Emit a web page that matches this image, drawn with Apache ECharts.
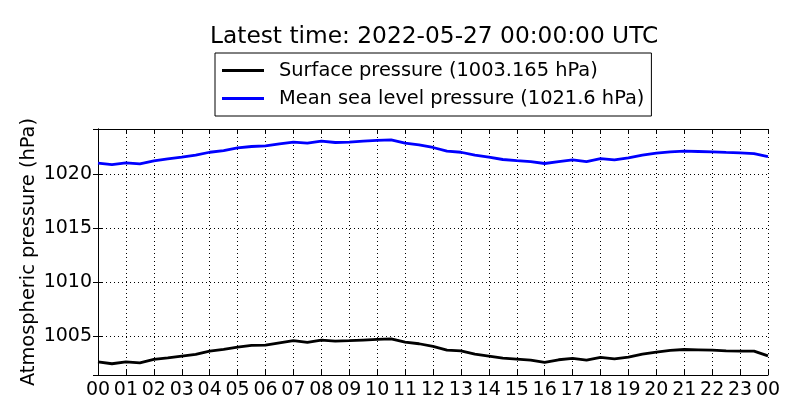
<!DOCTYPE html>
<html>
<head>
<meta charset="utf-8">
<script src="https://cdn.jsdelivr.net/npm/echarts@6/dist/echarts.min.js"></script>
<style>
  html, body { margin: 0; padding: 0; background: #fff; }
  #main { width: 800px; height: 420px; }
</style>
</head>
<body>
<div id="main"></div>
<script>
// hours since 2022-05-26 00:00 UTC, every half hour
var hours = [0, 0.5, 1, 1.5, 2, 2.5, 3, 3.5, 4, 4.5, 5, 5.5, 6, 6.5, 7, 7.5, 8, 8.5, 9, 9.5, 10, 10.5, 11, 11.5,
  12, 12.5, 13, 13.5, 14, 14.5, 15, 15.5, 16, 16.5, 17, 17.5, 18, 18.5, 19, 19.5, 20, 20.5, 21, 21.5, 22, 22.5, 23, 23.5, 24];

var surfacePressure = [1002.62, 1002.44, 1002.62, 1002.53, 1002.84, 1002.99, 1003.15, 1003.30, 1003.61, 1003.76,
  1003.98, 1004.14, 1004.17, 1004.38, 1004.57, 1004.41, 1004.63, 1004.54, 1004.57, 1004.63, 1004.69, 1004.75,
  1004.44, 1004.29, 1004.04, 1003.70, 1003.64, 1003.33, 1003.15, 1002.96, 1002.87, 1002.78, 1002.56, 1002.81,
  1002.93, 1002.78, 1003.03, 1002.90, 1003.06, 1003.33, 1003.52, 1003.67, 1003.76, 1003.73, 1003.70, 1003.64,
  1003.61, 1003.61, 1003.165];

var seaLevelPressure = [1020.99, 1020.86, 1021.02, 1020.93, 1021.20, 1021.39, 1021.54, 1021.73, 1022.00, 1022.16,
  1022.40, 1022.53, 1022.59, 1022.78, 1022.93, 1022.84, 1023.02, 1022.90, 1022.93, 1023.02, 1023.09, 1023.15,
  1022.84, 1022.69, 1022.44, 1022.10, 1022.00, 1021.73, 1021.54, 1021.33, 1021.23, 1021.14, 1020.96, 1021.14,
  1021.30, 1021.14, 1021.42, 1021.30, 1021.48, 1021.73, 1021.91, 1022.04, 1022.10, 1022.07, 1022.04, 1021.98,
  1021.94, 1021.88, 1021.60];

var seriesNames = ['Surface pressure (1003.165 hPa)', 'Mean sea level pressure (1021.6 hPa)'];
var titleText = 'Latest time: 2022-05-27 00:00:00 UTC';

function pairs(ys) {
  return hours.map(function (h, i) { return [h, ys[i]]; });
}

var myChart = echarts.init(document.getElementById('main'));

var tickStyle = { show: true, inside: true, length: 5, lineStyle: { color: '#000', width: 1 } };
var lineStyle = { show: true, lineStyle: { color: '#000', width: 1 } };
var gridStyle = { show: true, lineStyle: { color: '#000', width: 1, type: [1, 3] } };

var option = {
  animation: false,
  textStyle: { fontFamily: 'DejaVu Sans' },
  title: {
    text: titleText,
    left: 205,
    top: 20,
    textStyle: { fontSize: 23.3, fontWeight: 'normal', color: '#000', fontFamily: 'DejaVu Sans' }
  },
  legend: {
    orient: 'vertical',
    left: 215,
    top: 53,
    padding: [7, 7, 7, 7],
    borderColor: '#000',
    borderWidth: 1,
    itemWidth: 42,
    itemHeight: 3,
    itemGap: 7,
    icon: 'rect',
    textStyle: { fontSize: 19.4, color: '#000', lineHeight: 21, padding: [0, 0, 0, 10], fontFamily: 'DejaVu Sans' },
    data: seriesNames
  },
  grid: { left: 98, right: 32, top: 129, bottom: 45 },
  xAxis: [{
    type: 'value',
    min: 0,
    max: 24,
    interval: 1,
    axisLine: lineStyle,
    axisTick: tickStyle,
    splitLine: gridStyle,
    axisLabel: {
      fontSize: 19, color: '#000', margin: 6,
      formatter: function (v) { var h = Math.round(v) % 24; return (h < 10 ? '0' : '') + h; }
    }
  }, {
    type: 'value',
    position: 'top',
    min: 0,
    max: 24,
    interval: 1,
    axisLine: lineStyle,
    axisTick: tickStyle,
    splitLine: { show: false },
    axisLabel: { show: false }
  }],
  yAxis: [{
    type: 'value',
    min: 1001.4,
    max: 1024.15,
    splitNumber: 5,
    name: 'Atmospheric pressure (hPa)',
    nameLocation: 'middle',
    nameGap: 60,
    nameMoveOverlap: false,
    nameTextStyle: { fontSize: 19.4, color: '#000' },
    axisLine: lineStyle,
    axisTick: tickStyle,
    splitLine: gridStyle,
    axisLabel: {
      fontSize: 19, color: '#000', margin: 6, showMinLabel: false, showMaxLabel: false,
      formatter: function (v) { return String(Math.round(v)); }
    }
  }, {
    type: 'value',
    position: 'right',
    min: 1001.4,
    max: 1024.15,
    splitNumber: 5,
    axisLine: lineStyle,
    axisTick: tickStyle,
    splitLine: { show: false },
    axisLabel: { show: false }
  }],
  series: [{
    name: seriesNames[0],
    type: 'line',
    showSymbol: false,
    color: '#000000',
    lineStyle: { width: 2.8, color: '#000000' },
    data: pairs(surfacePressure)
  }, {
    name: seriesNames[1],
    type: 'line',
    showSymbol: false,
    color: '#0000ff',
    lineStyle: { width: 2.8, color: '#0000ff' },
    data: pairs(seaLevelPressure)
  }]
};

myChart.setOption(option);
</script>
</body>
</html>
